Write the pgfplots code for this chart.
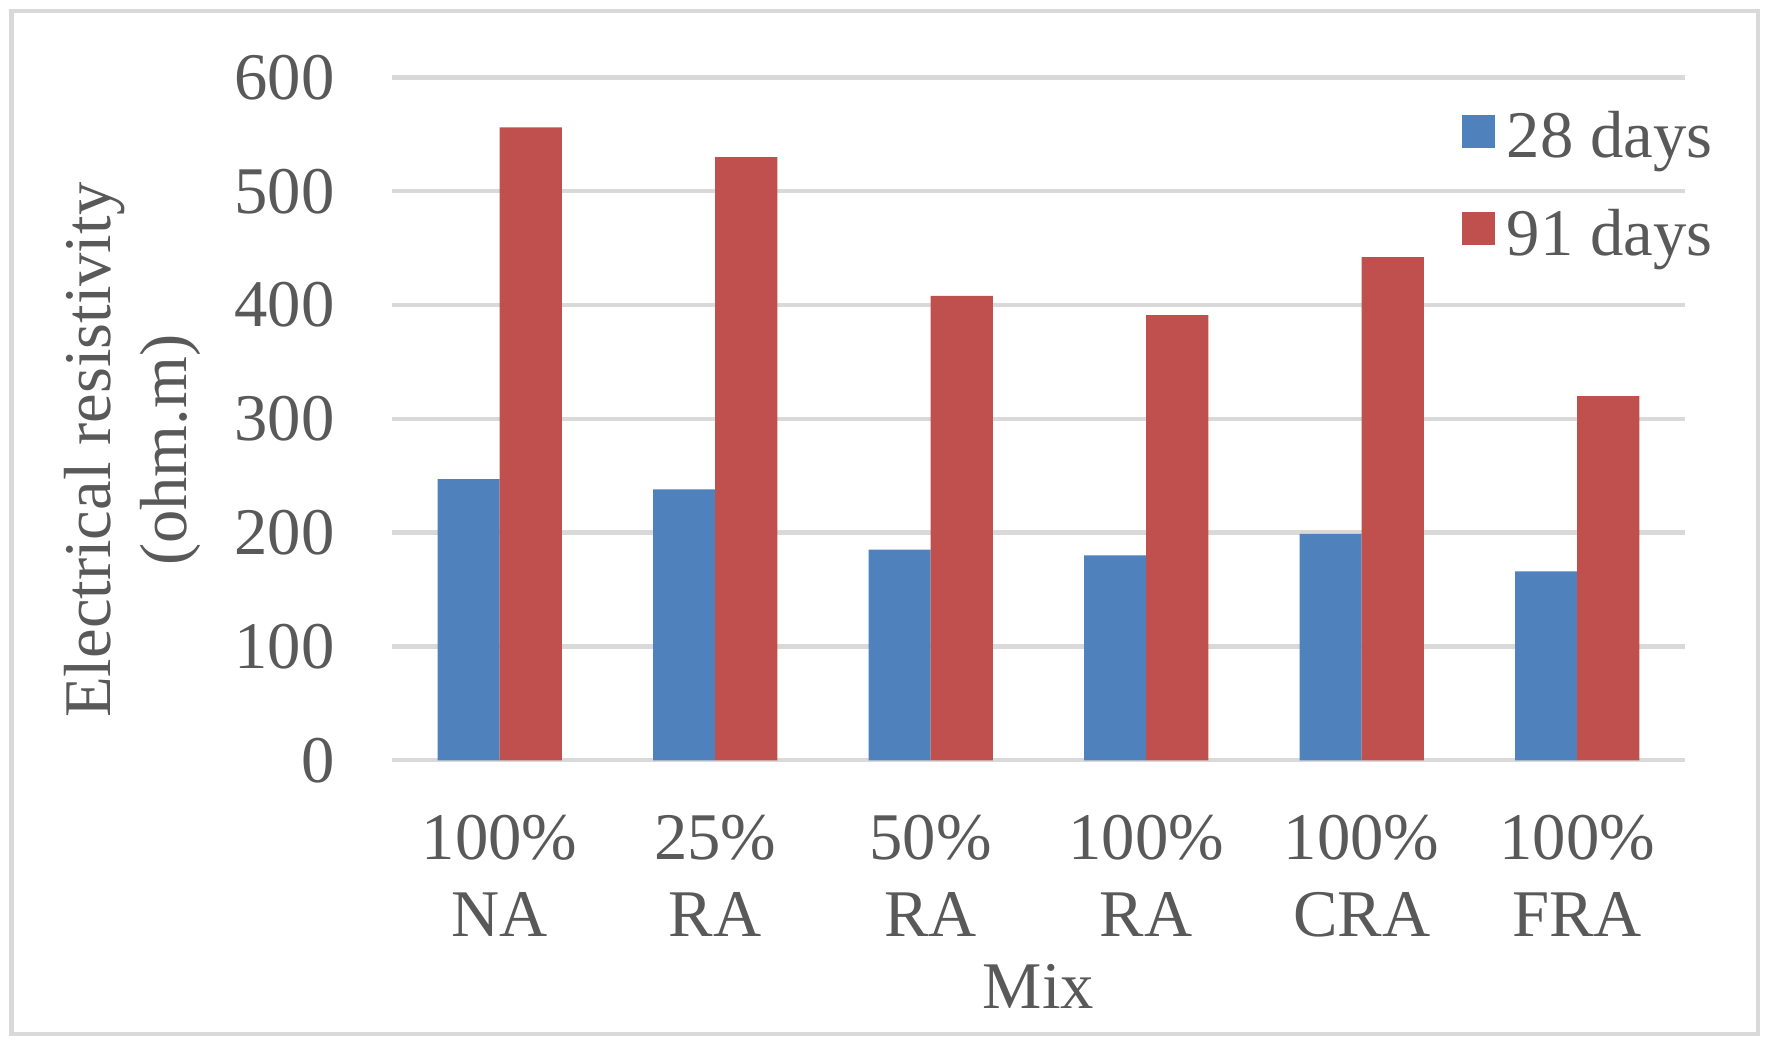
\documentclass[border=0pt]{standalone}
\usepackage{fontspec}
\setmainfont{Liberation Serif}
\usepackage{pgfplots}
\pgfplotsset{compat=1.18}
\definecolor{bblue}{HTML}{4F81BD}
\definecolor{rred}{HTML}{C0504D}
\definecolor{gridc}{HTML}{D9D9D9}
\definecolor{txt}{HTML}{595959}
\begin{document}
\begin{tikzpicture}
\begin{axis}[
  at={(0,0)}, anchor=south west,
  scale only axis, width=387.9pt, height=204.9pt,
  ybar=0pt, bar width=0.288,
  xmin=-0.5, xmax=5.5, ymin=0, ymax=600,
  ytick={0,100,...,600},
  xtick={0,...,5},
  xticklabels={{100\%\\NA},{25\%\\RA},{50\%\\RA},{100\%\\RA},{100\%\\CRA},{100\%\\FRA}},
  axis line style={draw=none},
  major tick length=0pt, tick style={draw=none},
  ymajorgrids, grid style={draw=gridc, line width=1.3pt},
  font=\fontsize{20}{22.9}\selectfont,
  every tick label/.append style={text=txt, font=\fontsize{20}{22.9}\selectfont},
  /pgf/number format/assume math mode=true,
  yticklabel style={anchor=east, inner sep=0pt, xshift=-17pt},
  xticklabel style={anchor=north, inner sep=0pt, yshift=-16.4pt, align=center},
  xlabel={Mix},
  xlabel style={at={(rel axis cs:0.5,0)}, anchor=base, yshift=-74.6pt, text=txt, inner sep=0pt},
  ylabel={Electrical resistivity\\(ohm.m)},
  ylabel style={at={([xshift=-77.9pt]rel axis cs:0,0.454)}, anchor=center, align=center, text=txt, inner sep=0pt},
  legend style={draw=none, fill=none, at={(rel axis cs:1,1)}, anchor=north west,
    xshift=-67.2pt, yshift=-10.1pt, inner sep=0pt, row sep=13.8pt,
    font=\fontsize{20}{22.9}\selectfont, text=txt,
    nodes={inner sep=0pt, text=txt}},
  every axis plot post/.append style={
    legend image code/.code={\fill[##1] (0pt,-3.2pt) rectangle (10pt,6.8pt); \path (13.6pt,0pt);}},
]
\addplot[fill=bblue, draw=none] coordinates {(0,247) (1,238) (2,185) (3,180) (4,199) (5,166)};
\addplot[fill=rred, draw=none] coordinates {(0,556) (1,530) (2,408) (3,391) (4,442) (5,320)};
\legend{28 days, 91 days}
\end{axis}
\draw[gridc, line width=1.3pt] (-114.1pt,-82.1pt) rectangle (409.8pt,224.8pt);
\pgfresetboundingbox
\useasboundingbox (-117.6pt,-84.8pt) rectangle (413.7pt,228.1pt);
\end{tikzpicture}
\end{document}
